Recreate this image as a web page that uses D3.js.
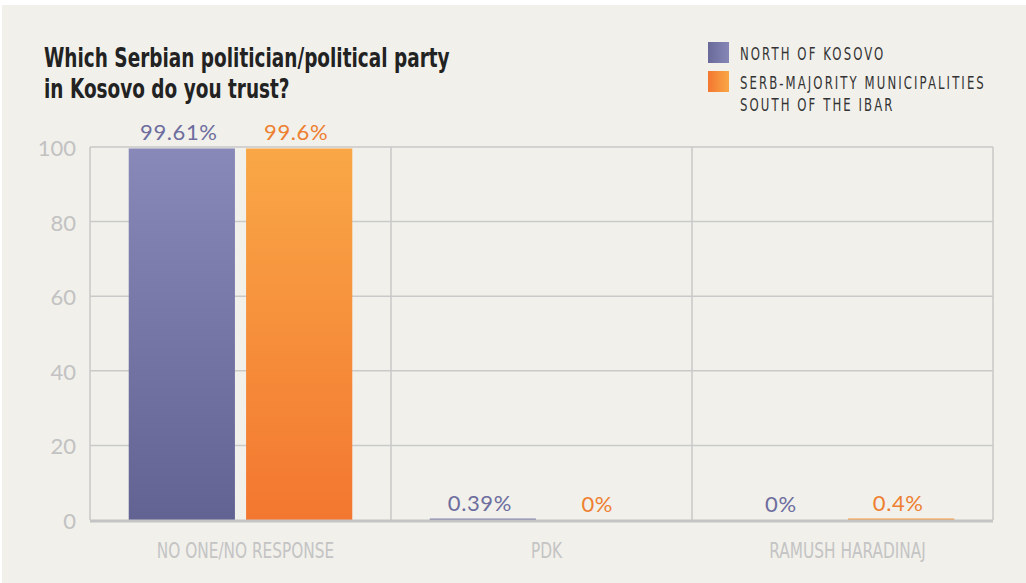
<!DOCTYPE html>
<html>
<head>
<meta charset="utf-8">
<script src="https://cdn.jsdelivr.net/npm/d3@7"></script>
<style>
  body { margin: 0; background: #ffffff; }
  svg { display: block; }
</style>
</head>
<body>
<script>
var width = 1026;
var height = 583;

var categories = ['NO ONE/NO RESPONSE', 'PDK', 'RAMUSH HARADINAJ'];
var seriesNames = ['NORTH OF KOSOVO', 'SERB-MAJORITY MUNICIPALITIES|SOUTH OF THE IBAR'];
var north = [99.61, 0.39, 0];
var south = [99.6, 0, 0.4];
var labelsNorth = ['99.61%', '0.39%', '0%'];
var labelsSouth = ['99.6%', '0%', '0.4%'];
var yTicks = [0, 20, 40, 60, 80, 100];

var margin = { top: 147, right: 33, bottom: 63, left: 90 };

var svg = d3.select('body').append('svg')
    .attr('width', width)
    .attr('height', height);

var defs = svg.append('defs');
function grad(id, c1, c2, horiz) {
    var g = defs.append('linearGradient').attr('id', id)
        .attr('x1', 0).attr('y1', 0)
        .attr('x2', horiz ? 1 : 0).attr('y2', horiz ? 0 : 1);
    g.append('stop').attr('offset', '0%').attr('stop-color', c1);
    g.append('stop').attr('offset', '100%').attr('stop-color', c2);
}
grad('gPurple', '#8888b9', '#636393', false);
grad('gOrange', '#f9a746', '#f37730', false);
grad('lPurple', '#6a6a9a', '#8686b7', true);
grad('lOrange', '#f37730', '#f9a746', true);

// squeeze text horizontally to mimic a condensed face
function squeeze(sel, k) {
    sel.each(function () {
        var w = this.getComputedTextLength();
        d3.select(this).attr('textLength', w * k).attr('lengthAdjust', 'spacingAndGlyphs');
    });
}

svg.append('rect')
    .attr('x', 2).attr('y', 5)
    .attr('width', width - 2).attr('height', height - 5)
    .attr('fill', '#f1f0eb');

var x = d3.scaleBand()
    .domain(categories)
    .range([margin.left, width - margin.right]);

var y = d3.scaleLinear()
    .domain([0, 100])
    .range([height - margin.bottom, margin.top]);

var plot = svg.append('g');

// grid
plot.selectAll('.hgrid')
    .data(yTicks.filter(function (d) { return d > 0; }))
    .enter().append('line')
    .attr('x1', margin.left).attr('x2', width - margin.right)
    .attr('y1', function (d) { return y(d); })
    .attr('y2', function (d) { return y(d); })
    .attr('stroke', '#c9c9c9').attr('stroke-width', 1.5);

var vlines = categories.map(function (c) { return x(c); }).concat([width - margin.right]);
plot.selectAll('.vgrid')
    .data(vlines)
    .enter().append('line')
    .attr('x1', function (d) { return d; }).attr('x2', function (d) { return d; })
    .attr('y1', margin.top).attr('y2', y(0))
    .attr('stroke', '#c9c9c9').attr('stroke-width', 1.5);

// y tick labels
plot.selectAll('.ytick')
    .data(yTicks)
    .enter().append('text')
    .attr('x', 76)
    .attr('y', function (d) { return y(d) + 9; })
    .attr('text-anchor', 'end')
    .attr('font-family', 'Lato, "Open Sans", sans-serif')
    .attr('font-size', 22)
    .attr('fill', '#c2c2c2')
    .text(function (d) { return d; });

// bars
var inner = d3.scaleBand()
    .domain([0, 1])
    .range([0, x.bandwidth()])
    .paddingInner(0.095)
    .paddingOuter(0.33);

var series = [
    { values: north, labels: labelsNorth, fill: 'url(#gPurple)', text: '#6d6d9e', flat: '#7a7aad' },
    { values: south, labels: labelsSouth, fill: 'url(#gOrange)', text: '#ee7f31', flat: '#f79a3e' }
];

series.forEach(function (s, si) {
    var g = plot.append('g');
    g.selectAll('rect')
        .data(categories)
        .enter().append('rect')
        .attr('x', function (c) { return x(c) + inner(si); })
        .attr('y', function (c, i) { return y(s.values[i]); })
        .attr('width', inner.bandwidth())
        .attr('height', function (c, i) { return y(0) - y(s.values[i]); })
        .attr('fill', function (c, i) { return s.values[i] > 5 ? s.fill : s.flat; });

    g.selectAll('text')
        .data(categories)
        .enter().append('text')
        .attr('x', function (c) { return x(c) + inner(si) + inner.bandwidth() / 2 - 3; })
        .attr('y', function (c, i) { return y(s.values[i]) - 8; })
        .attr('text-anchor', 'middle')
        .attr('font-family', 'Lato, "Open Sans", sans-serif')
        .attr('font-size', 22)
        .attr('letter-spacing', 0.6)
        .attr('fill', s.text)
        .text(function (c, i) { return s.labels[i]; });
});

// baseline
plot.append('line')
    .attr('x1', margin.left).attr('x2', width - margin.right)
    .attr('y1', y(0) + 1).attr('y2', y(0) + 1)
    .attr('stroke', '#c4c4c4').attr('stroke-width', 3);

// x labels
plot.selectAll('.xlab')
    .data(categories)
    .enter().append('text')
    .attr('x', function (c) { return x(c) + x.bandwidth() / 2 + 5; })
    .attr('y', 558)
    .attr('text-anchor', 'middle')
    .attr('font-family', '"DejaVu Sans", sans-serif')
    .attr('font-size', 21)
    .attr('fill', '#c4c4c4')
    .text(function (c) { return c; })
    .call(squeeze, 0.73);

// title
var title = svg.append('text')
    .attr('x', 44).attr('y', 67)
    .attr('font-family', '"DejaVu Sans", sans-serif')
    .attr('font-weight', 'bold')
    .attr('font-size', 26)
    .attr('fill', '#222222');
title.append('tspan').attr('x', 44).text('Which Serbian politician/political party');
title.append('tspan').attr('x', 44).attr('dy', 31).text('in Kosovo do you trust?');
title.selectAll('tspan').call(squeeze, 0.71);

// legend
var legend = svg.append('g');
var legendFills = ['url(#lPurple)', 'url(#lOrange)'];
var kx = 0.65;
seriesNames.forEach(function (name, i) {
    var ly = 42 + i * 29;
    legend.append('rect')
        .attr('x', 708).attr('y', ly)
        .attr('width', 21).attr('height', 21)
        .attr('fill', legendFills[i]);
    var t = legend.append('text')
        .attr('transform', 'scale(' + kx + ',1)')
        .attr('x', 740 / kx).attr('y', ly + 18)
        .attr('font-family', '"DejaVu Sans", sans-serif')
        .attr('font-size', 18)
        .attr('letter-spacing', 3.2)
        .attr('fill', '#333333');
    name.split('|').forEach(function (line, j) {
        t.append('tspan').attr('x', 740 / kx).attr('dy', j ? 22 : 0).text(line);
    });
});
</script>
</body>
</html>
